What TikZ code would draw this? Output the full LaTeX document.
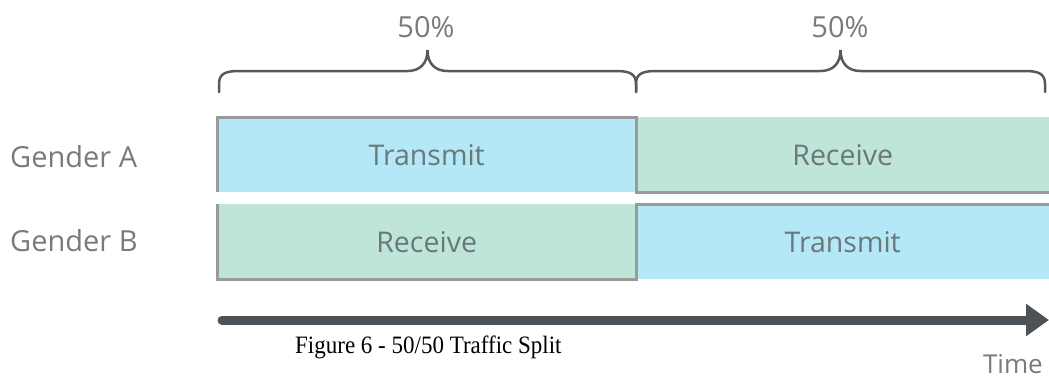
\documentclass[tikz,border=0pt]{standalone}
\usepackage{fontspec}
\setmainfont{Open Sans}
\newfontfamily\capfont{Liberation Serif}
\usetikzlibrary{arrows.meta}
\definecolor{bluefill}{HTML}{B5E8F6}
\definecolor{greenfill}{HTML}{BEE5D8}
\definecolor{edgegray}{HTML}{9A9A9A}
\definecolor{bracegray}{HTML}{555A5E}
\definecolor{arrowgray}{HTML}{4D5257}
\definecolor{labelgray}{HTML}{7A7A7A}
\definecolor{boxtext}{HTML}{6A777B}
\tikzset{
  slot/.style={minimum width=#1, minimum height=75pt, inner sep=0pt, anchor=north west, text=boxtext, font=\fontsize{28.5}{32}\selectfont},
  tx/.style={slot=#1, fill=bluefill},
  rx/.style={slot=#1, fill=greenfill},
  rowlabel/.style={anchor=west, text=labelgray, font=\fontsize{29}{33}\selectfont, inner sep=0pt},
  pct/.style={text=labelgray, font=\fontsize{29}{33}\selectfont, inner sep=0pt},
  edge/.style={draw=edgegray, line width=3pt, line join=miter},
  bracestyle/.style={draw=bracegray, line width=2.5pt, line cap=round},
}
\newcommand\drawbrace[2]{%
  \pgfmathsetmacro\bm{(#1+#2)/2}%
  \draw[bracestyle] (#1,92) -- (#1,84) .. controls (#1,74) and ({#1+6},71) .. ({#1+20},71)
    -- ({\bm-20},71) .. controls ({\bm-8},71) and (\bm,64) .. (\bm,50)
    .. controls (\bm,64) and ({\bm+8},71) .. ({\bm+20},71)
    -- ({#2-20},71) .. controls ({#2-6},71) and (#2,74) .. (#2,84) -- (#2,92);}
\begin{document}
\begin{tikzpicture}[x=1pt,y=-1pt]
\useasboundingbox (0,0) rectangle (1049,376);
% boxes
\node[tx=419pt] (atx) at (217,117) {Transmit};
\node[rx=413pt] (arx) at (636,117) {Receive};
\node[rx=419pt] (brx) at (217,204) {Receive};
\node[tx=413pt] (btx) at (636,204) {Transmit};
% borders
\draw[edge] (atx.south west) -- (atx.north west) -- (atx.north east) -- (atx.south east) -- (arx.south east);
\draw[edge] (btx.north east) -- (btx.north west) -- (btx.south west) -- (brx.south west) -- (brx.north west);
% row labels
\node[rowlabel] (ga) at (10,157) {Gender A};
\node[rowlabel] (gb) at (10,241) {Gender B};
% braces
\drawbrace{219}{636}
\drawbrace{636}{1045}
\node[pct] (p1) at (426,27) {50\%};
\node[pct] (p2) at (840,27) {50\%};
% time arrow
\coordinate (t0) at (222,320);
\coordinate (t1) at (1049,320);
\draw[draw=arrowgray, line width=9pt, line cap=round, -{Triangle[length=23pt,width=31pt]}] (t0) -- (t1);
\node[anchor=base east, inner sep=0pt, text=labelgray, font=\fontsize{26}{30}\selectfont] (time) at (1043,373) {Time};
\node[anchor=base west, inner sep=0pt, xscale=0.92, transform shape, font=\capfont\fontsize{25}{30}\selectfont] (cap) at (295,353) {Figure 6 - 50/50 Traffic Split};
\end{tikzpicture}
\end{document}
